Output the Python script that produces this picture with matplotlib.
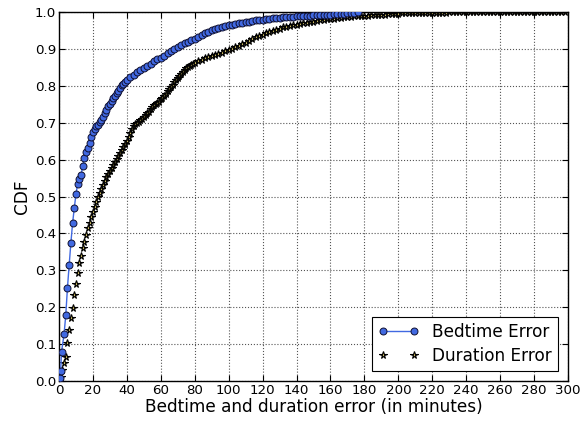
import numpy as np
import matplotlib
matplotlib.use("Agg")
import matplotlib.pyplot as plt

# bedtime error CDF (minutes, cumulative fraction)
bed_x = [0.5, 1, 1.5, 3, 4, 5, 6, 7, 8, 9, 10, 11, 12, 13, 14, 15, 16, 17, 18, 19,
         20, 21, 22, 23, 24, 25, 26, 27, 28, 29, 30, 31, 32, 33, 34, 35, 36, 37, 38, 39,
         40, 42, 44, 46, 48, 50, 52, 54, 56, 58, 60, 62, 64, 66, 68, 70, 72, 74, 76, 78,
         80, 82, 84, 86, 88, 90, 92, 94, 96, 98, 100, 102, 104, 106, 108, 110, 112, 114,
         116, 118, 120, 122, 124, 126, 128, 130, 132, 134, 136, 138, 140, 142, 144, 146,
         148, 150, 152, 154, 156, 158, 160, 162, 164, 166, 168, 170, 172, 174, 176]
bed_y = [0.007, 0.028, 0.079, 0.127, 0.179, 0.253, 0.314, 0.374, 0.427, 0.468, 0.506,
         0.535, 0.547, 0.558, 0.583, 0.605, 0.620, 0.632, 0.645, 0.660, 0.675, 0.684,
         0.691, 0.695, 0.701, 0.708, 0.716, 0.727, 0.735, 0.744, 0.751, 0.758, 0.766,
         0.772, 0.780, 0.787, 0.795, 0.801, 0.806, 0.811, 0.816, 0.823, 0.830, 0.837,
         0.843, 0.848, 0.853, 0.860, 0.866, 0.872, 0.876, 0.882, 0.888, 0.893, 0.899,
         0.906, 0.911, 0.916, 0.920, 0.923, 0.927, 0.933, 0.938, 0.943, 0.947, 0.950,
         0.953, 0.956, 0.959, 0.962, 0.965, 0.966, 0.968, 0.970, 0.971, 0.973, 0.974,
         0.975, 0.977, 0.978, 0.979, 0.981, 0.982, 0.983, 0.984, 0.985, 0.986, 0.986,
         0.987, 0.987, 0.988, 0.988, 0.989, 0.989, 0.990, 0.991, 0.991, 0.992, 0.992,
         0.993, 0.993, 0.994, 0.994, 0.995, 0.995, 0.996, 0.997, 0.998, 1.0]

# duration error CDF
dur_x = [1, 2, 3, 4, 5, 6, 7, 8, 9, 10, 11, 12, 13, 14, 15, 16, 17, 18, 19, 20,
         21, 22, 23, 24, 25, 26, 27, 28, 29, 30, 31, 32, 33, 34, 35, 36, 37, 38, 39, 40,
         41, 42, 43, 44, 45, 46, 47, 48, 49, 50, 51, 52, 53, 54, 55, 56, 57, 58, 59, 60,
         61, 62, 63, 64, 65, 66, 67, 68, 69, 70, 71, 72, 73, 74, 75, 76, 77, 78, 79, 80,
         82, 84, 86, 88, 90, 92, 94, 96, 98, 100, 102, 104, 106, 108, 110, 112, 114, 116, 118, 120,
         122, 124, 126, 128, 130, 132, 134, 136, 138, 140, 142, 144, 146, 148, 150, 152, 154, 156, 158, 160,
         162, 164, 166, 168, 170, 172, 174, 176, 178, 180, 182, 184, 186, 188, 190, 192, 194, 196, 198, 200,
         202, 204, 206, 208, 210, 212, 214, 216, 218, 220, 222, 224, 226, 228, 230, 232, 234, 236, 238, 240,
         242, 244, 246, 248, 250, 252, 254, 256, 258, 260, 262, 264, 266, 268, 270, 272, 274, 276, 278, 280,
         282, 284, 286, 288, 290, 292, 294, 296, 298]
dur_y = [0.012, 0.030, 0.048, 0.066, 0.102, 0.138, 0.170, 0.197, 0.233, 0.263,
         0.294, 0.319, 0.340, 0.360, 0.378, 0.396, 0.414, 0.427, 0.445, 0.459,
         0.472, 0.486, 0.500, 0.509, 0.520, 0.531, 0.543, 0.553, 0.562, 0.570,
         0.578, 0.586, 0.593, 0.601, 0.610, 0.618, 0.626, 0.633, 0.641, 0.650,
         0.660, 0.671, 0.682, 0.692, 0.697, 0.700, 0.703, 0.707, 0.711, 0.716,
         0.720, 0.725, 0.730, 0.736, 0.742, 0.748, 0.751, 0.754, 0.757, 0.763,
         0.768, 0.773, 0.778, 0.786, 0.792, 0.797, 0.803, 0.809, 0.815, 0.821,
         0.827, 0.833, 0.838, 0.843, 0.848, 0.852, 0.855, 0.857, 0.859, 0.861,
         0.866, 0.870, 0.875, 0.878, 0.881, 0.884, 0.887, 0.890, 0.893, 0.897,
         0.901, 0.905, 0.909, 0.913, 0.917, 0.922, 0.927, 0.931, 0.935, 0.939,
         0.942, 0.945, 0.948, 0.951, 0.955, 0.958, 0.960, 0.962, 0.964, 0.966,
         0.967, 0.969, 0.971, 0.973, 0.974, 0.975, 0.977, 0.978, 0.980, 0.981,
         0.982, 0.984, 0.985, 0.986, 0.986, 0.987, 0.988, 0.988, 0.989, 0.990,
         0.990, 0.991, 0.992, 0.992, 0.993, 0.993, 0.994, 0.994, 0.995, 0.995,
         0.996, 0.996, 0.996, 0.997, 0.997, 0.997, 0.997, 0.997, 0.998, 0.998,
         0.998, 0.998, 0.998, 0.998, 0.999, 0.999, 0.999, 0.999, 0.999, 0.999,
         0.999, 0.999, 0.999, 0.999, 0.999, 0.999, 0.999, 0.999, 0.999, 1.0,
         1.0, 1.0, 1.0, 1.0, 1.0, 1.0, 1.0, 1.0, 1.0, 1.0,
         1.0, 1.0, 1.0, 1.0, 1.0, 1.0, 1.0, 1.0, 1.0]

x_ticks = list(range(0, 301, 20))
y_ticks = [i / 10 for i in range(11)]

fs = 9.6
lfs = 12.2
fig = plt.figure(figsize=(5.84, 4.21), dpi=100)
ax = fig.add_axes([0.101, 0.095, 0.8716, 0.8765])

ax.plot(bed_x, bed_y, color='royalblue', lw=1, marker='o', ms=5,
        mfc='royalblue', mec='#101030', mew=0.7, label='Bedtime Error', zorder=3)
ax.plot(dur_x, dur_y, ls='none', marker='*', ms=5.5,
        mfc='#c9b85e', mec='black', mew=0.8, label='Duration Error', zorder=2)

ax.set_xlim(0, 300)
ax.set_ylim(0, 1.0)
ax.set_xticks(x_ticks)
ax.set_yticks(y_ticks)
ax.set_yticklabels(['%.1f' % v for v in y_ticks])
ax.tick_params(direction='in', top=True, right=True, length=4, labelsize=fs, pad=2)
ax.grid(True, ls=':', color='#555555', lw=0.8)
for s in ax.spines.values():
    s.set_linewidth(1)

ax.set_xlabel('Bedtime and duration error (in minutes)', fontsize=lfs, labelpad=1)
ax.set_ylabel('CDF', fontsize=lfs, labelpad=3)

leg = ax.legend(loc='lower right', numpoints=2, fontsize=lfs, fancybox=False,
                framealpha=1, edgecolor='black', borderpad=0.35, handlelength=2.4,
                labelspacing=0.35, borderaxespad=0.6)
leg.get_frame().set_linewidth(0.8)

fig.savefig('out.png', dpi=100)
